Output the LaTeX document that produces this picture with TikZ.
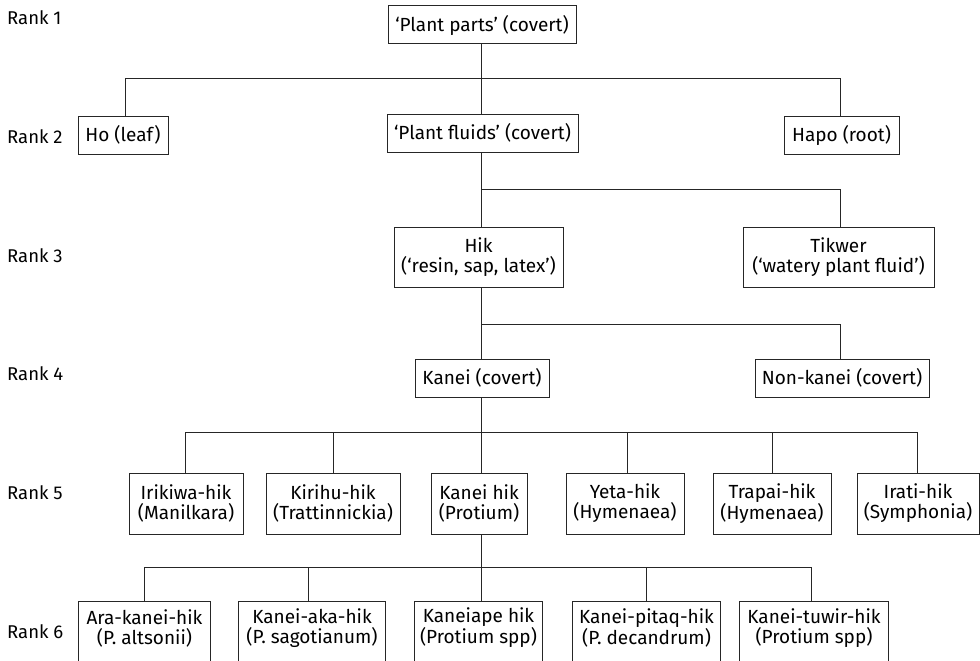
\documentclass[tikz,border=0pt]{standalone}
\usepackage{fontspec}
\setmainfont{Fira Sans}
\begin{document}
\begin{tikzpicture}[x=1pt,y=-1pt,
  box/.style={draw=black!85,line width=1pt,inner sep=0pt,align=center,
    font=\fontsize{19}{20}\selectfont,minimum height=38pt},
  tall/.style={box,minimum height=61pt},
  open/.style={inner sep=0pt,align=center,font=\fontsize{19}{20}\selectfont,minimum height=52pt},
  rank/.style={anchor=west,inner sep=0pt,font=\fontsize{18.5}{20}\selectfont},
  link/.style={draw=black!85,line width=0.9pt}]
\clip (0,0) rectangle (980,661);
% rank labels
\node[rank] (r1) at (7,18) {Rank 1};
\node[rank] (r2) at (7,137) {Rank 2};
\node[rank] (r3) at (7,256) {Rank 3};
\node[rank] (r4) at (7,374) {Rank 4};
\node[rank] (r5) at (7,493) {Rank 5};
\node[rank] (r6) at (7,632) {Rank 6};
% rank 1
\node[box,minimum width=188pt] (pp) at (482,25) {‘Plant parts’ (covert)};
% rank 2
\node[box,minimum width=90pt] (ho) at (123,135) {Ho (leaf)};
\node[box,minimum width=191pt] (pf) at (482.5,133) {‘Plant fluids’ (covert)};
\node[box,minimum width=115pt] (hapo) at (841.5,135) {Hapo (root)};
% rank 3
\node[box,minimum width=169pt,minimum height=60pt] (hik) at (478.5,257) {Hik\\(‘resin, sap, latex’)};
\node[box,minimum width=191pt,minimum height=60pt] (tik) at (838.5,257) {Tikwer\\(‘watery plant fluid’)};
% rank 4
\node[box,minimum width=134pt] (kanei) at (482,378) {Kanei (covert)};
\node[box,minimum width=174pt] (nonk) at (842,378) {Non-kanei (covert)};
% rank 5
\node[tall,minimum width=114pt] (iri) at (186,503.5) {Irikiwa-hik\\(Manilkara)};
\node[tall,minimum width=134pt] (kir) at (333,503.5) {Kirihu-hik\\(Trattinnickia)};
\node[tall,minimum width=96pt] (kh) at (479,503.5) {Kanei hik\\(Protium)};
\node[tall,minimum width=118pt] (yeta) at (625,503.5) {Yeta-hik\\(Hymenaea)};
\node[tall,minimum width=118pt] (trap) at (772,503.5) {Trapai-hik\\(Hymenaea)};
\node[tall,minimum width=122pt] (irati) at (918,503.5) {Irati-hik\\(Symphonia)};
% rank 6
\node[open,minimum width=131pt] (ara) at (144.5,628) {Ara-kanei-hik\\(P. altsonii)};
\node[open,minimum width=146pt] (aka) at (312,628) {Kanei-aka-hik\\(P. sagotianum)};
\node[open,minimum width=127pt] (ape) at (478.5,628) {Kaneiape hik\\(Protium spp)};
\node[open,minimum width=147pt] (pit) at (646.5,628) {Kanei-pitaq-hik\\(P. decandrum)};
\node[open,minimum width=148pt] (tuw) at (814,628) {Kanei-tuwir-hik\\(Protium spp)};
\foreach \n in {ara,aka,ape,pit,tuw}{
  \draw[draw=black!85,line width=1pt] (\n.south west) ++(0,-30pt) -- (\n.north west) -- (\n.north east) -- ++(0,-80pt);
}
% junctions
\coordinate (tx) at (481,0);
\coordinate (j1) at (481,78);
\coordinate (j2) at (481,189);
\coordinate (j3) at (481,324);
\coordinate (j4) at (481,432);
\coordinate (j5) at (481,567);
% connectors
\draw[link] (pp.south -| tx) -- (pf.north -| tx);
\draw[link] (pf.south -| tx) -- (hik.north -| tx);
\draw[link] (hik.south -| tx) -- (kanei.north -| tx);
\draw[link] (kanei.south -| tx) -- (kh.north -| tx);
\draw[link] (kh.south -| tx) -- (ape.north -| tx);
\draw[link] (ho.north) ++(2.7pt,0) |- (j1);
\draw[link] (hapo.north) ++(-1.5pt,0) |- (j1);
\draw[link] (tik.north) ++(1.5pt,0) |- (j2);
\draw[link] (nonk.north) ++(-2pt,0) |- (j3);
\draw[link] (iri.north) ++(-1pt,0) |- (j4);
\draw[link] (kir.north) |- (j4);
\draw[link] (yeta.north) ++(2pt,0) |- (j4);
\draw[link] (trap.north) |- (j4);
\draw[link] (irati.north) ++(-1pt,0) |- (j4);
\draw[link] (ara.north) |- (j5);
\draw[link] (aka.north) ++(-4pt,0) |- (j5);
\draw[link] (pit.north) |- (j5);
\draw[link] (tuw.north) ++(-3pt,0) |- (j5);
\end{tikzpicture}
\end{document}
